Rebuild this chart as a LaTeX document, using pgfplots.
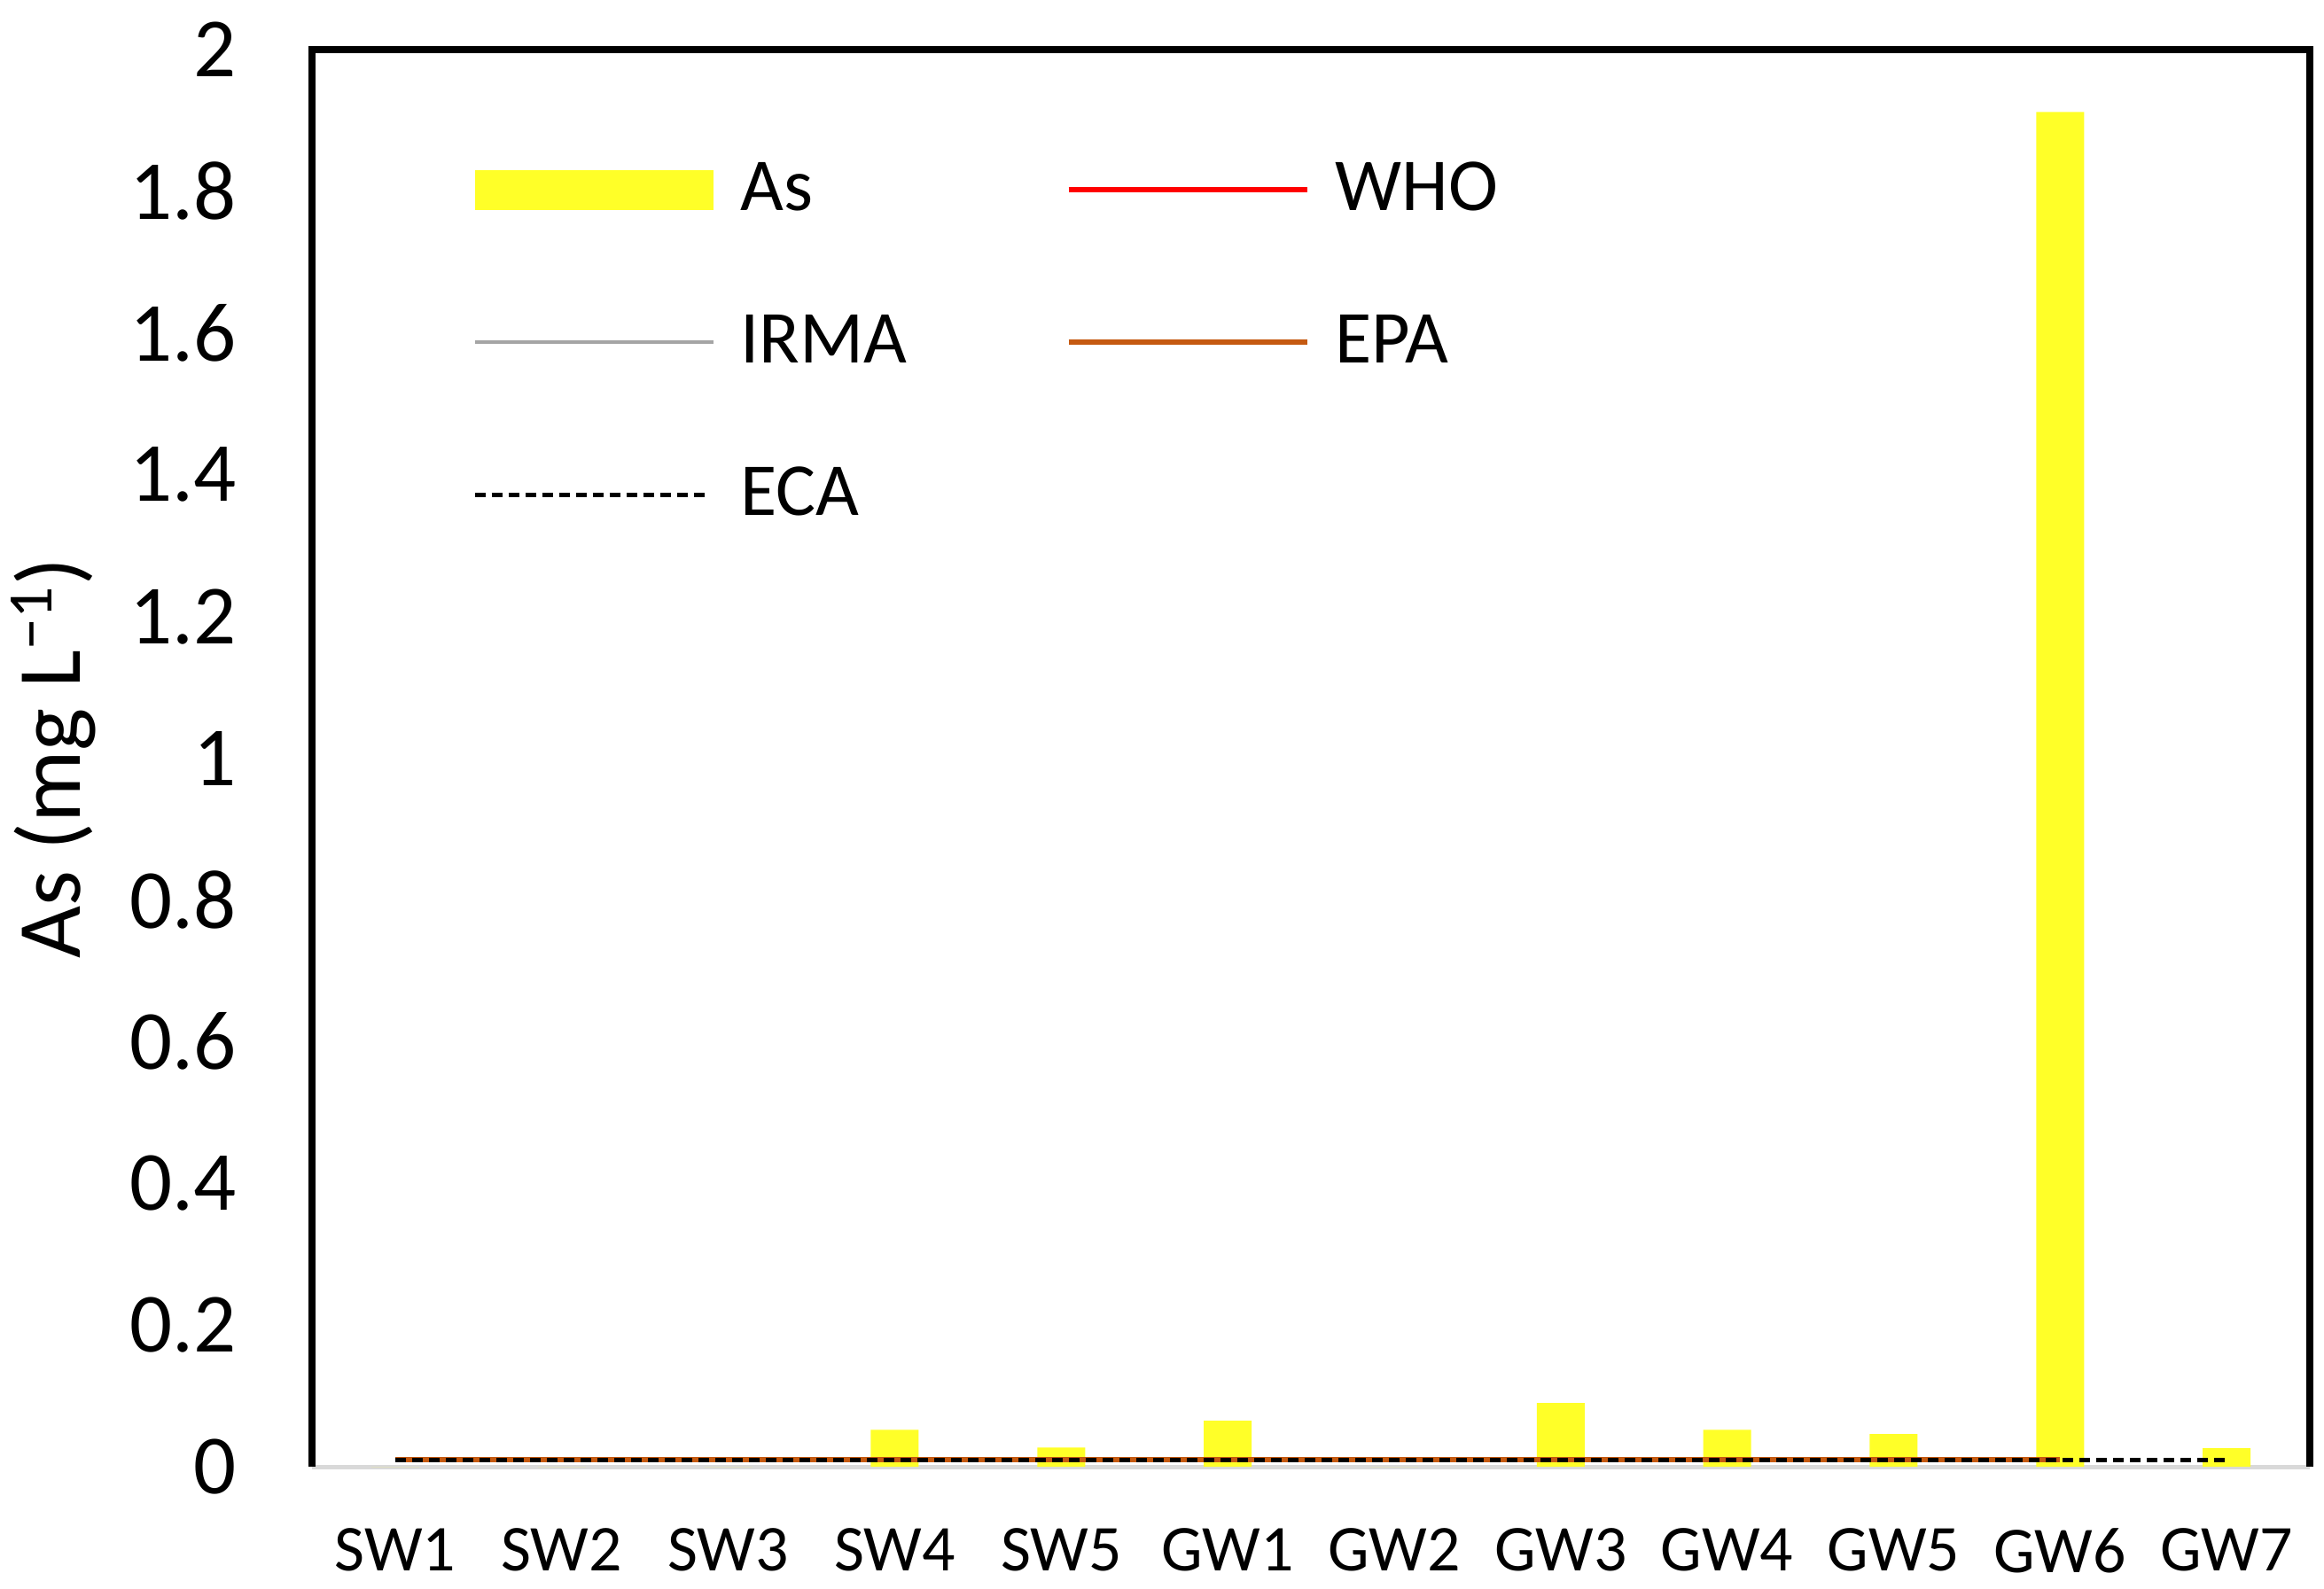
\documentclass[border=0pt]{standalone}
\usepackage{pgfplots}
\pgfplotsset{compat=1.18}
\usepackage{fontspec}
\setmainfont{Carlito}
\definecolor{asyellow}{RGB}{255,255,40}
\definecolor{whored}{RGB}{255,0,0}
\definecolor{irmagray}{RGB}{165,165,165}
\definecolor{epabrown}{RGB}{197,90,17}
\definecolor{axisgray}{RGB}{217,217,217}
\begin{document}
\begin{tikzpicture}
\path[use as bounding box] (-35.2mm,-13.7mm) rectangle (227.0mm,165.5mm);
\begin{axis}[
  at={(0,0)}, anchor=south west,
  width=225.4mm, height=159.9mm, scale only axis,
  xmin=-0.5, xmax=11.5, ymin=0, ymax=2,
  clip=false,
  axis line style={draw=none},
  major tick length=0pt,
  xtick={0,1,2,3,4,5,6,7,8,9,10,11},
  xticklabels={SW1,SW2,SW3,SW4,SW5,GW1,GW2,GW3,GW4,GW5,GW6,GW7},
  ytick={0,0.2,0.4,0.6,0.8,1,1.2,1.4,1.6,1.8,2},
  yticklabels={0,0.2,0.4,0.6,0.8,1,1.2,1.4,1.6,1.8,2},
  /pgf/number format/assume math mode=true,
  yticklabel style={font=\fontsize{27}{27}\selectfont, anchor=east, inner sep=0pt, xshift=-8.5mm},
  xticklabel style={font=\fontsize{21}{21}\selectfont, anchor=north, inner sep=0pt, yshift=-6.9mm},
  ylabel={As (mg L\textsuperscript{−1})},
  ylabel style={font=\fontsize{29}{29}\selectfont, at={(axis description cs:-0.1162,0.5)}, anchor=base},
  legend columns=2,
  legend cell align=left,
  legend style={at={(axis description cs:0.0803,0.9262)}, anchor=north west,
    draw=none, fill=none, inner sep=0pt, outer sep=0pt,
    column sep=2.9mm, row sep=9.2mm,
    font=\fontsize{24}{24}\selectfont,
    nodes={inner sep=0pt, text height=6.3mm, text depth=1.7mm, text width=33.8mm, align=left}},
]
\draw[axisgray, line width=0.5mm] (rel axis cs:0,0) -- (rel axis cs:1,0);

\addplot[ybar, bar width=5.4mm, fill=asyellow, draw=none,
  legend image code/.code={\fill[asyellow] (0mm,-2.25mm) rectangle (26.9mm,2.25mm);}]
  coordinates {(0,0) (1,0) (2,0) (3,0.052) (4,0.027) (5,0.065) (6,0) (7,0.090) (8,0.052) (9,0.046) (10,1.912) (11,0.026)};
\addlegendentry{As}

\addplot[whored, line width=0.6mm,
  legend image code/.code={\draw[whored, line width=0.6mm] (0mm,0mm) -- (26.9mm,0mm);}]
  coordinates {(0,0.01) (1,0.01) (2,0.01) (3,0.01) (4,0.01) (5,0.01) (6,0.01) (7,0.01) (8,0.01) (9,0.01) (10,0.01)};
\addlegendentry{WHO}

\addplot[irmagray, line width=0.4mm,
  legend image code/.code={\draw[irmagray, line width=0.4mm] (0mm,0mm) -- (26.9mm,0mm);}]
  coordinates {(0,0.01) (1,0.01) (2,0.01) (3,0.01) (4,0.01) (5,0.01) (6,0.01) (7,0.01) (8,0.01) (9,0.01) (10,0.01)};
\addlegendentry{IRMA}

\addplot[epabrown, line width=0.55mm,
  legend image code/.code={\draw[epabrown, line width=0.55mm] (0mm,0mm) -- (26.9mm,0mm);}]
  coordinates {(0,0.01) (1,0.01) (2,0.01) (3,0.01) (4,0.01) (5,0.01) (6,0.01) (7,0.01) (8,0.01) (9,0.01) (10,0.01)};
\addlegendentry{EPA}

\addplot[black, line width=0.5mm, dash pattern=on 1.2mm off 0.7mm,
  legend image code/.code={\draw[black, line width=0.5mm, dash pattern=on 1.2mm off 0.7mm] (0mm,0mm) -- (26.3mm,0mm);}]
  coordinates {(0,0.01) (1,0.01) (2,0.01) (3,0.01) (4,0.01) (5,0.01) (6,0.01) (7,0.01) (8,0.01) (9,0.01) (10,0.01) (11,0.01)};
\addlegendentry{ECA}

\draw[black, line width=0.8mm, line join=miter] (rel axis cs:0,0) -- (rel axis cs:0,1) -- (rel axis cs:1,1) -- (rel axis cs:1,0);
\end{axis}
\end{tikzpicture}
\end{document}
